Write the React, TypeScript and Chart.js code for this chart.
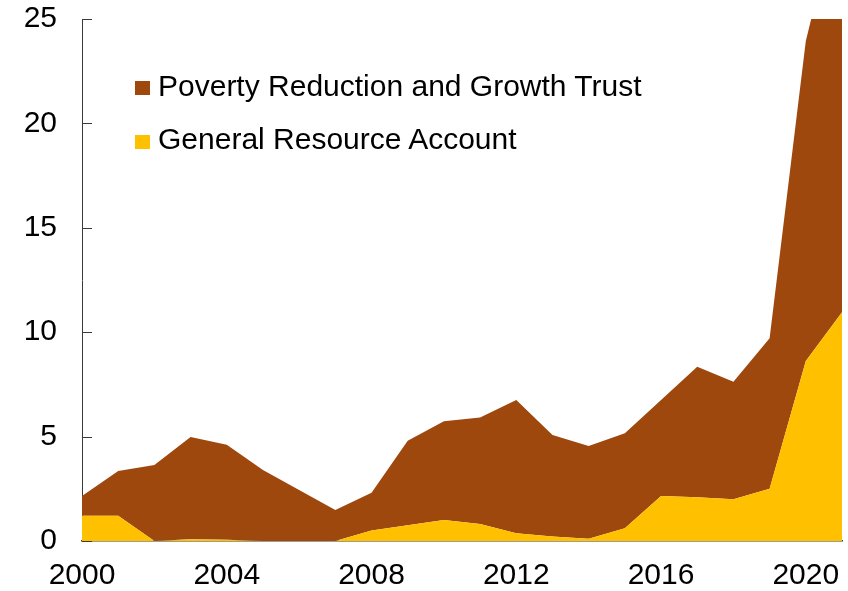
import React, { useEffect, useRef } from "react";
import { Chart, registerables } from "chart.js";

Chart.register(...registerables);

const years: string[] = [
  "2000", "2001", "2002", "2003", "2004", "2005", "2006", "2007", "2008", "2009", "2010",
  "2011", "2012", "2013", "2014", "2015", "2016", "2017", "2018", "2019", "2020", "2021",
];

const graValues: number[] = [
  1.21, 1.21, 0, 0.08, 0.06, 0, 0, 0, 0.5, 0.75, 1.0,
  0.81, 0.37, 0.21, 0.11, 0.61, 2.16, 2.09, 2.0, 2.5, 8.62, 10.95,
];

const prgtValues: number[] = [
  0.95, 2.14, 3.64, 4.9, 4.55, 3.4, 2.44, 1.48, 1.81, 4.05, 4.73,
  5.11, 6.38, 4.87, 4.44, 4.55, 4.59, 6.26, 5.63, 7.21, 15.33, 20.05,
];

const yTicks: number[] = [0, 5, 10, 15, 20, 25];

const seriesNames: string[] = ["Poverty Reduction and Growth Trust", "General Resource Account"];
const seriesColors: string[] = ["#9E480E", "#FFC000"];

const FONT = "'Liberation Sans', Arial, sans-serif";
const AXIS_COLOR = "#3a3a3a";

const inwardTicks = {
  id: "inwardTicks",
  afterDatasetsDraw(chart: any) {
    const y = chart.scales.y;
    const ctx = chart.ctx;
    ctx.save();
    ctx.strokeStyle = AXIS_COLOR;
    ctx.lineWidth = 1;
    for (const v of yTicks) {
      const py = Math.round(y.getPixelForValue(v)) + 0.5;
      ctx.beginPath();
      ctx.moveTo(chart.chartArea.left, py);
      ctx.lineTo(chart.chartArea.left + 10, py);
      ctx.stroke();
    }
    ctx.restore();
  },
};

export default function App() {
  const ref = useRef<HTMLCanvasElement | null>(null);

  useEffect(() => {
    if (!ref.current) return;
    const chart = new Chart(ref.current, {
      type: "line",
      data: {
        labels: years,
        datasets: [
          {
            label: seriesNames[1],
            data: graValues,
            backgroundColor: seriesColors[1],
            borderColor: seriesColors[1],
            borderWidth: 0,
            pointRadius: 0,
            fill: "origin",
            tension: 0,
          },
          {
            label: seriesNames[0],
            data: prgtValues,
            backgroundColor: seriesColors[0],
            borderColor: seriesColors[0],
            borderWidth: 0,
            pointRadius: 0,
            fill: "-1",
            tension: 0,
          },
        ],
      },
      options: {
        animation: false,
        responsive: true,
        maintainAspectRatio: false,
        layout: { padding: { top: 19, right: 6, left: 0, bottom: 0 } },
        plugins: {
          legend: { display: false },
          tooltip: { enabled: false },
        },
        scales: {
          x: {
            type: "category",
            offset: false,
            grid: { display: true, drawOnChartArea: false, drawTicks: true, tickLength: 17, tickColor: "rgba(0,0,0,0)" },
            border: { display: true, color: AXIS_COLOR, width: 1.5 },
            ticks: {
              autoSkip: false,
              maxRotation: 0,
              padding: 0,
              color: "#000",
              font: { family: FONT, size: 30 },
              callback: (_v: any, i: number) => (Number(years[i]) % 4 === 0 ? years[i] : ""),
            },
            afterFit: (s: any) => {
              s.height = 50;
            },
          },
          y: {
            stacked: true,
            min: 0,
            max: 25,
            grid: { display: true, drawOnChartArea: false, drawTicks: true, tickLength: 25, tickColor: "rgba(0,0,0,0)" },
            border: { display: true, color: AXIS_COLOR, width: 1 },
            ticks: {
              stepSize: 5,
              padding: 0,
              color: "#000",
              font: { family: FONT, size: 30 },
            },
            afterFit: (s: any) => {
              s.width = 82;
            },
          },
        },
      },
      plugins: [inwardTicks],
    });
    return () => chart.destroy();
  }, []);

  const legendItems = [
    { name: seriesNames[0], color: seriesColors[0], top: 69, sq: 81 },
    { name: seriesNames[1], color: seriesColors[1], top: 122, sq: 135 },
  ];

  return (
    <div style={{ position: "fixed", left: 0, top: 0, width: 848, height: 591, background: "#fff" }}>
      <canvas ref={ref} />
      {legendItems.map((it) => (
        <React.Fragment key={it.name}>
          <div
            style={{
              position: "absolute",
              left: 135,
              top: it.sq,
              width: 15,
              height: 14,
              background: it.color,
            }}
          />
          <div
            style={{
              position: "absolute",
              left: 158,
              top: it.top,
              fontFamily: FONT,
              fontSize: 30,
              lineHeight: "34px",
              color: "#000",
              whiteSpace: "nowrap",
            }}
          >
            {it.name}
          </div>
        </React.Fragment>
      ))}
    </div>
  );
}
